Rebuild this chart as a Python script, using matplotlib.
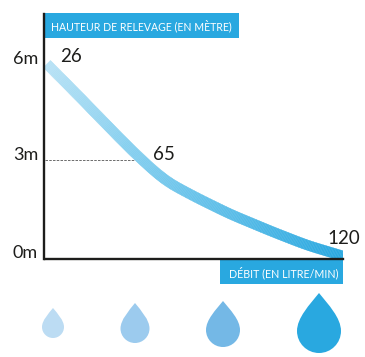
import numpy as np
import matplotlib
matplotlib.use("Agg")
import matplotlib.pyplot as plt
from matplotlib.collections import PolyCollection
from matplotlib.colors import LinearSegmentedColormap
from matplotlib.path import Path
from matplotlib.patches import PathPatch, Rectangle
from matplotlib.transforms import IdentityTransform

plt.rcParams["font.family"] = ["Lato", "DejaVu Sans"]

W, H = 365, 357
BLUE = "#29a8e0"
DARK = "#1d1d1b"
BAND_PX = 10

# curve
flow = [26.6, 35.5, 44, 52.8, 56, 60.7, 65.4, 74, 84.4, 97.9, 108.6, 120]
height = [5.91, 5.05, 4.21, 3.35, 3.06, 2.64, 2.29, 1.85, 1.36, 0.82, 0.42, 0.09]

y_ticks = [0, 3, 6]
y_labels = ["0m", "3m", "6m"]
y_label_px = [253, 155, 59]
flow_labels = ["26", "65", "120"]
flow_label_px = [(71, 57), (164, 154), (344, 238)]

y_title = "HAUTEUR DE RELEVAGE (EN MÈTRE)"
x_title = "DÉBIT (EN LITRE/MIN)"

drop_x = [53, 135, 223, 319]
drop_tip = [308, 303, 301, 293]
drop_bottom = [338, 343, 347, 353]
drop_width = [22, 29, 34, 44]
drop_colors = ["#bcdcf3", "#9ccbee", "#74b8e6", BLUE]


def smooth(p, step=1.5, win=25):
    # resample the read points along their length, then round off the kinks
    s = np.r_[0, np.cumsum(np.linalg.norm(np.diff(p, axis=0), axis=1))]
    t = np.arange(0, s[-1] + step, step)
    t[-1] = s[-1]
    q = np.column_stack([np.interp(t, s, p[:, 0]), np.interp(t, s, p[:, 1])])
    # pad by mirroring through the end points so the ends stay put
    pad = win // 2
    head = 2 * q[0] - q[1:pad + 1][::-1]
    tail = 2 * q[-1] - q[-pad - 1:-1][::-1]
    full = np.vstack([head, q, tail])
    kernel = np.hanning(win + 2)[1:-1]
    kernel /= kernel.sum()
    return np.column_stack([np.convolve(full[:, i], kernel, mode="valid") for i in range(2)])


def band_quads(pts, width):
    # thick line cut into small quads, in display pixels
    tan = np.gradient(pts, axis=0)
    tan /= np.linalg.norm(tan, axis=1, keepdims=True)
    pts = np.vstack([pts, pts[-1] + tan[-1] * 6])
    tan = np.vstack([tan, tan[-1]])
    norm = np.column_stack([-tan[:, 1], tan[:, 0]])
    up = pts + norm * width / 2
    lo = pts - norm * width / 2
    return np.stack([up[:-1], up[1:], lo[1:], lo[:-1]], axis=1)


def drop_path(cx, tip, bottom, width):
    r = width / 2
    cy = bottom - r
    d = cy - tip
    k = 0.5523 * r
    verts = [
        (cx, tip),
        (cx + 0.42 * r, tip + 0.30 * d), (cx + r, cy - 0.60 * r), (cx + r, cy),
        (cx + r, cy + k), (cx + k, bottom), (cx, bottom),
        (cx - k, bottom), (cx - r, cy + k), (cx - r, cy),
        (cx - r, cy - 0.60 * r), (cx - 0.42 * r, tip + 0.30 * d), (cx, tip),
    ]
    codes = [Path.MOVETO] + [Path.CURVE4] * 12
    return Path(verts, codes)


fig = plt.figure(figsize=(W / 100, H / 100), dpi=100)

# pixel layer for boxes, labels and drops
bg = fig.add_axes([0, 0, 1, 1])
bg.set_xlim(0, W)
bg.set_ylim(H, 0)
bg.axis("off")

bg.add_patch(Rectangle((44, 13), 195, 25, fc=BLUE, ec="none"))
bg.add_patch(Rectangle((220, 260), 123, 24, fc=BLUE, ec="none"))
bg.text(141, 25.5, y_title, color="white", fontsize=7.6, ha="center", va="center")
bg.text(283.5, 272.5, x_title, color="white", fontsize=7.7, ha="center", va="center")

for lab, py in zip(y_labels, y_label_px):
    bg.text(38, py, lab, color=DARK, fontsize=13, ha="right", va="center")
for lab, (px, py) in zip(flow_labels, flow_label_px):
    bg.text(px, py, lab, color=DARK, fontsize=13.5, ha="center", va="center")

for cx, tip, bottom, width, col in zip(drop_x, drop_tip, drop_bottom, drop_width, drop_colors):
    bg.add_patch(PathPatch(drop_path(cx, tip, bottom, width), fc=col, ec="none"))

# data axes
ax = fig.add_axes([45 / W, 1 - 259 / H, 298 / W, 245 / H])
ax.patch.set_alpha(0)
ax.set_xlim(26, 120)
ax.set_ylim(0, 245 / 33)
ax.set_xticks([])
ax.set_yticks([])
ax.spines["top"].set_visible(False)
ax.spines["right"].set_visible(False)
ax.spines["left"].set_position(("outward", 1.0))
for side in ["left", "bottom"]:
    ax.spines[side].set_linewidth(1.7)
    ax.spines[side].set_color(DARK)
    ax.spines[side].set_zorder(5)

ax.plot([26, 54.4], [y_ticks[1], y_ticks[1]], color="#555555", lw=0.6, ls=(0, (3, 1.5)))

# colour runs along the band
pts = smooth(ax.transData.transform(np.column_stack([flow, height])))
quads = band_quads(pts, BAND_PX)
cmap = LinearSegmentedColormap.from_list("band", ["#b8e2f5", "#85cfef", "#5bbde8", BLUE])
band = PolyCollection(quads, transform=IdentityTransform(), edgecolors="face", linewidths=0.3, zorder=2)
band.set_array(np.linspace(0, 1, len(quads)))
band.set_cmap(cmap)
ax.add_collection(band, autolim=False)
band.set_clip_path(ax.patch)

fig.savefig("out.png", dpi=100)
plt.close(fig)
